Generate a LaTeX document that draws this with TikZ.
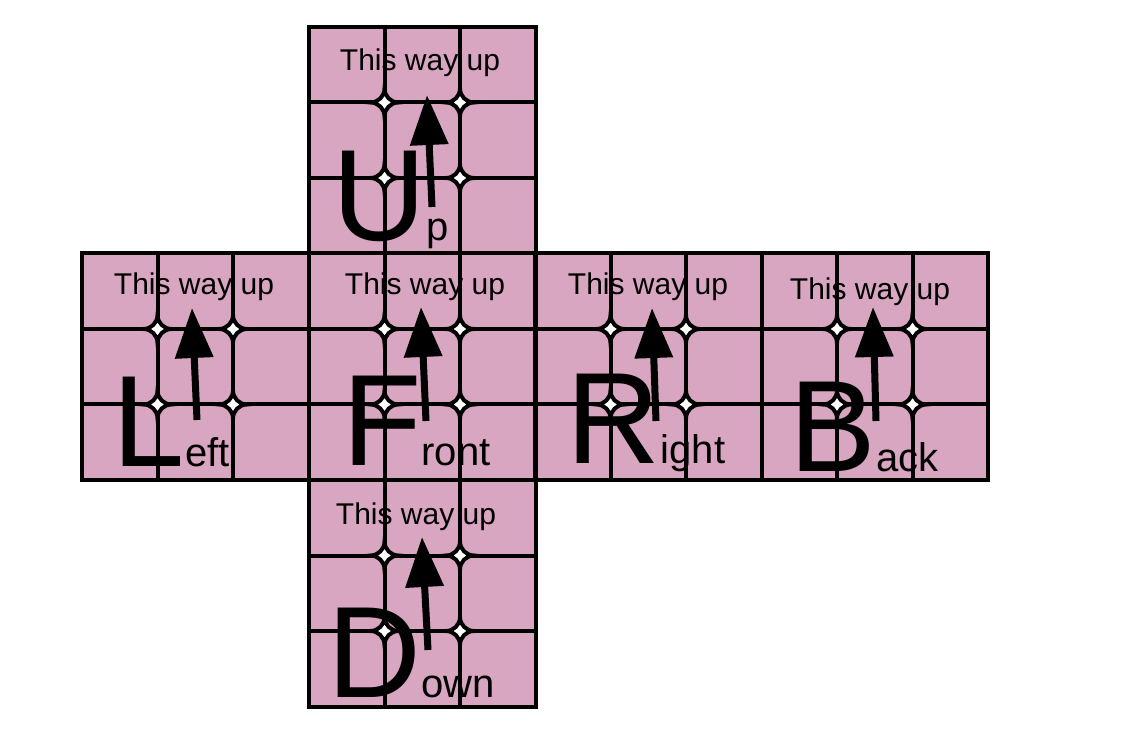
\documentclass[tikz,border=0pt]{standalone}
\usepackage{fontspec}
\setmainfont{Liberation Sans}
\usetikzlibrary{arrows.meta}
\definecolor{cubepink}{RGB}{216,166,192}
\tikzset{
  gridline/.style={line width=3pt, line join=miter},
  uparrow/.style={line width=5.25pt, -{Triangle[length=37.5pt,width=27.75pt]}},
  bigletter/.style={anchor=base west, inner sep=0pt, font=\fontsize{97.5}{98}\selectfont},
  waytext/.style={anchor=base, inner sep=0pt, font=\fontsize{22.5}{23}\selectfont},
  facefill/.style={fill=cubepink},
  rkface/.pic={
    \draw[gridline] (0,0) rectangle (226.5,226.5);
    \foreach \k in {75.5,151}{
      \draw[gridline] (\k,0) -- (\k,226.5);
      \draw[gridline] (0,\k) -- (226.5,\k);
    }
    \foreach \a in {75.5,151}{\foreach \b in {75.5,151}{
      \filldraw[gridline, fill=white] (\a-14,\b)
        arc[start angle=270,end angle=360,radius=14]
        arc[start angle=180,end angle=270,radius=14]
        arc[start angle=90,end angle=180,radius=14]
        arc[start angle=0,end angle=90,radius=14] -- cycle;
    }}
  }
}
\newcommand{\rksmall}{\fontsize{30}{30}\selectfont}
\begin{document}
\begin{tikzpicture}[x=0.75pt,y=-0.75pt]
\fill[white] (0,0) rectangle (1132,755);
\useasboundingbox (0,0) rectangle (1132,755);
% face fills
\foreach \fx/\fy in {309/27, 82/253.5, 309/253.5, 535/253.5, 761.5/253.5, 309/480}{
  \fill[facefill] (\fx,\fy) rectangle ++(226.5,226.5);
}
% big letters with suffixes
\node[bigletter] (lu) at (332,241) {U\rksmall p};
\node[bigletter] (ll) at (112.5,467) {L\rksmall eft};
\node[bigletter] (lf) at (342,466) {F\rksmall ront};
\node[bigletter] (lr) at (566.5,464) {R\rksmall ight};
\node[bigletter] (lb) at (789.5,472) {B\rksmall ack};
\node[bigletter] (ld) at (327,697) {D\rksmall own};
% grids
\pic at (309,27) {rkface};
\pic at (82,253.5) {rkface};
\pic at (309,253.5) {rkface};
\pic at (535,253.5) {rkface};
\pic at (761.5,253.5) {rkface};
\pic at (309,480) {rkface};
% arrows
\coordinate (ua) at (432,207); \coordinate (ub) at (427,95);
\coordinate (la) at (197,420); \coordinate (lb2) at (192,308);
\coordinate (fa) at (426,421); \coordinate (fb) at (421,307);
\coordinate (ra) at (656,421); \coordinate (rb) at (652,308);
\coordinate (ba) at (876,421); \coordinate (bb) at (873,307);
\coordinate (da) at (428,650); \coordinate (db) at (422,537);
\draw[uparrow] (ua) -- (ub);
\draw[uparrow] (la) -- (lb2);
\draw[uparrow] (fa) -- (fb);
\draw[uparrow] (ra) -- (rb);
\draw[uparrow] (ba) -- (bb);
\draw[uparrow] (da) -- (db);
% labels
\node[waytext] (tu) at (420,71) {This way up};
\node[waytext] (tl) at (194,295) {This way up};
\node[waytext] (tf) at (425,295) {This way up};
\node[waytext] (tr) at (648,295) {This way up};
\node[waytext] (tb) at (870,300) {This way up};
\node[waytext] (td) at (416,524) {This way up};
\end{tikzpicture}
\end{document}
